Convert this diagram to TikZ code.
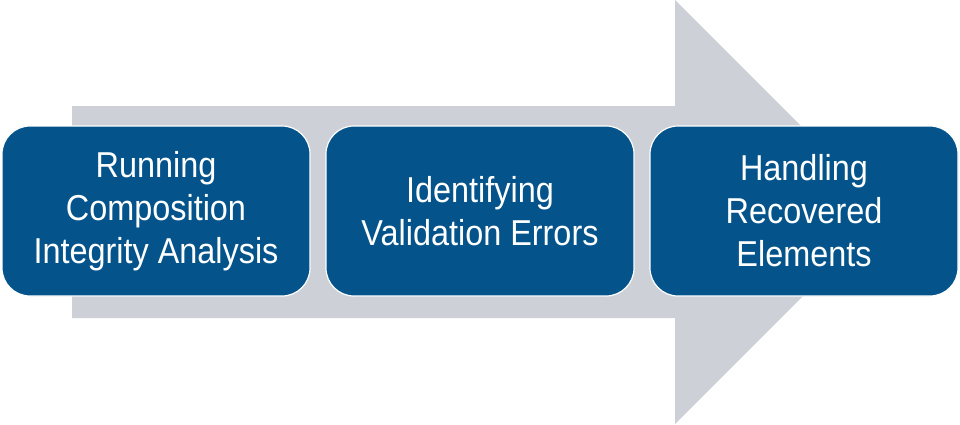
\documentclass[tikz,border=0pt]{standalone}
\usepackage{fontspec}
\setmainfont{Liberation Sans}
\newfontfamily\stepfont[FakeStretch=0.9]{Liberation Sans}
\usetikzlibrary{calc}

\definecolor{stepblue}{HTML}{04548B}
\definecolor{arrowgray}{HTML}{CDD1D7}

\tikzset{
  stepbox/.style={draw=white,line width=1.2pt,fill=stepblue,rounded corners=28pt,
    minimum width=308pt,minimum height=170pt,inner sep=0pt,align=center,text=white,
    font=\stepfont\fontsize{36}{43}\selectfont}
}

\begin{document}
\begin{tikzpicture}[line cap=round,line join=round,x=1pt,y=-1pt]
\useasboundingbox (0,0) rectangle (960,424);

\coordinate (T1) at (72,106);
\coordinate (T2) at (675,106);
\coordinate (H1) at (675,0);
\coordinate (P) at (887,212);
\coordinate (H2) at (675,424);
\coordinate (B2) at (675,318);
\coordinate (B1) at (72,318);

\fill[arrowgray] (T1) -- (T2) -- (H1) -- (P) -- (H2) -- (B2) -- (B1) -- cycle;

\node[stepbox] (run) at (156,211) {Running\\Composition\\Integrity Analysis};
\node[stepbox] (val) at (480,211) {Identifying\\Validation Errors};
\node[stepbox] (rec) at (804,211) {Handling\\Recovered\\Elements};
\end{tikzpicture}
\end{document}
